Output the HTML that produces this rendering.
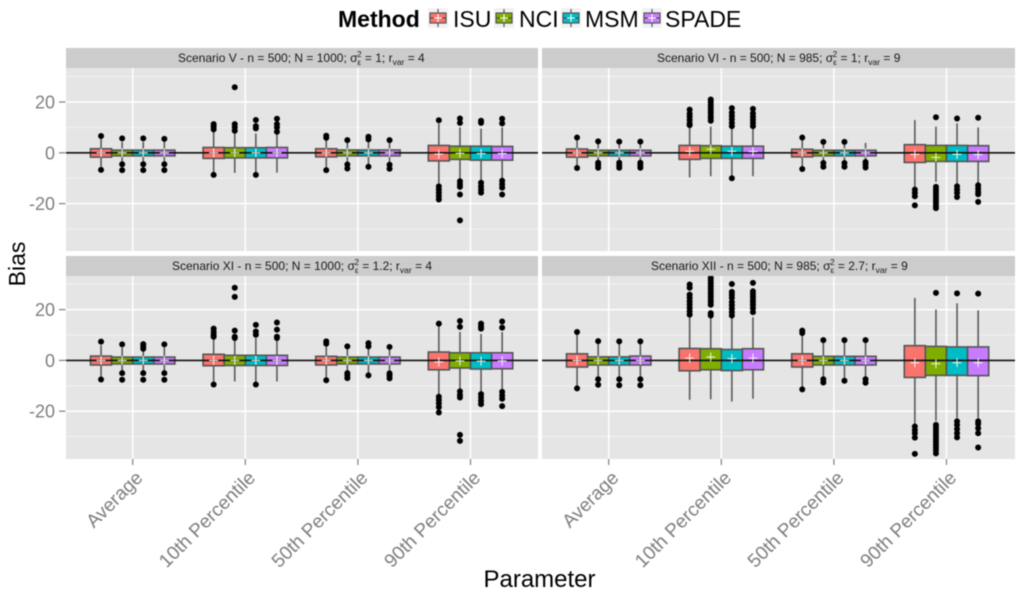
<!DOCTYPE html>
<html lang="en">
<head>
<meta charset="utf-8">
<title>Bias by parameter and method</title>
<style>
html,body{margin:0;padding:0;background:#fff;width:1024px;height:594px;overflow:hidden}
svg{display:block;filter:blur(0.6px)}
text{font-family:"Liberation Sans",sans-serif}
.strip{font-size:12px;fill:#1a1a1a}
.leg{font-size:23px;fill:#000}
</style>
</head>
<body>
<svg id="chart" xmlns="http://www.w3.org/2000/svg" width="1024" height="594" viewBox="0 0 1024 594">
  <g id="panels"></g>
  <g id="strips">
    <rect x="66" y="48" width="472" height="20" fill="#cccccc"/>
    <rect x="542" y="48" width="473" height="20" fill="#cccccc"/>
    <rect x="66" y="256" width="472" height="20" fill="#cccccc"/>
    <rect x="542" y="256" width="473" height="20" fill="#cccccc"/>
    <text class="strip" x="178" y="62">Scenario V - n = 500; N = 1000; σ<tspan dy="3" font-size="8">ε</tspan><tspan dx="-4" dy="-8" font-size="8">2</tspan><tspan dy="5"> = 1; r</tspan><tspan dy="3" font-size="8.5">var</tspan><tspan dy="-3"> = 4</tspan></text>
    <text class="strip" x="657" y="62">Scenario VI - n = 500; N = 985; σ<tspan dy="3" font-size="8">ε</tspan><tspan dx="-4" dy="-8" font-size="8">2</tspan><tspan dy="5"> = 1; r</tspan><tspan dy="3" font-size="8.5">var</tspan><tspan dy="-3"> = 9</tspan></text>
    <text class="strip" x="172" y="270">Scenario XI - n = 500; N = 1000; σ<tspan dy="3" font-size="8">ε</tspan><tspan dx="-4" dy="-8" font-size="8">2</tspan><tspan dy="5"> = 1.2; r</tspan><tspan dy="3" font-size="8.5">var</tspan><tspan dy="-3"> = 4</tspan></text>
    <text class="strip" x="651" y="270">Scenario XII - n = 500; N = 985; σ<tspan dy="3" font-size="8">ε</tspan><tspan dx="-4" dy="-8" font-size="8">2</tspan><tspan dy="5"> = 2.7; r</tspan><tspan dy="3" font-size="8.5">var</tspan><tspan dy="-3"> = 9</tspan></text>
  </g>
  <g id="axes"></g>
  <text transform="translate(25,264) rotate(-90)" text-anchor="middle" font-size="23" fill="#000">Bias</text>
  <text x="539.5" y="587" text-anchor="middle" font-size="24" fill="#000">Parameter</text>
  <g id="legend">
    <text x="338" y="27" font-size="23" font-weight="bold" fill="#000">Method</text>
    <text class="leg" x="453" y="27">ISU</text>
    <text class="leg" x="519" y="27">NCI</text>
    <text class="leg" x="585" y="27">MSM</text>
    <text class="leg" x="665" y="27">SPADE</text>
  </g>
</svg>
<script>
// Indexed [scenario][parameter][method]
const categories = ['Average', '10th Percentile', '50th Percentile', '90th Percentile'];
const methods = ['ISU', 'NCI', 'MSM', 'SPADE'];
const yTicks = [20, 0, -20];
const yMinorTicks = [30, 10, -10, -30];

const boxHigh = [
  [[1.6,1.05,1.05,1.05],[2.1,2,2,2.1],[1.6,1.1,1.1,1.1],[2.9,2.6,2.6,2.5]],
  [[1.5,1,1,1],[2.9,2.8,2.6,2.6],[1.4,1,1,1],[3.2,2.9,2.9,2.8]],
  [[1.7,1.3,1.3,1.3],[2.4,2,2,2],[1.6,1.3,1.3,1.3],[3.3,3,3,3]],
  [[2.6,1.4,1.4,1.7],[4.7,4.6,4.3,4.6],[2.6,1.6,1.6,1.6],[5.8,5.5,5.3,5.3]]
];
const boxLow = [
  [[-1.7,-1.2,-1.2,-1.2],[-2.2,-2,-2,-2],[-1.6,-1.2,-1.2,-1.2],[-3.2,-2.6,-2.9,-2.9]],
  [[-1.7,-1.2,-1.2,-1.2],[-2.6,-2.2,-2.2,-2.2],[-1.6,-1.2,-1.2,-1.2],[-3.8,-3.4,-3.4,-3.4]],
  [[-1.8,-1.4,-1.4,-1.4],[-2.1,-2,-2,-2],[-1.8,-1.4,-1.4,-1.4],[-3.7,-3,-3.4,-3.3]],
  [[-2.6,-1.8,-1.8,-1.8],[-4.1,-3.7,-4,-3.7],[-2.6,-1.8,-1.8,-1.8],[-6.7,-5.9,-5.9,-6]]
];
const whiskerHigh = [
  [[5.5,4.3,4.3,4.3],[8.3,7.6,7.6,7.8],[5.2,4.2,4.2,4.2],[11.5,10,9.5,10]],
  [[5,3.6,3.6,3.6],[10.2,10.3,10.2,9.8],[5,3.6,3.6,3.9],[12.9,10.3,11.6,10]],
  [[6,5,4,5],[8.6,8,8.8,8],[5.8,4.6,4.8,4.6],[13.6,11.2,10.4,11.2]],
  [[10,6.6,6.6,6.6],[17,16.5,17,17],[10,7,7,7],[24.6,20,22.5,19.7]]
];
const whiskerLow = [
  [[-5.5,-3.6,-3.6,-3.6],[-7.6,-7.9,-7.6,-7.8],[-5.6,-4,-4.6,-4],[-12,-10.3,-11,-10.5]],
  [[-5.2,-3.2,-3.2,-3.2],[-9.7,-9.2,-9,-9.2],[-5.4,-3.3,-3.3,-3],[-13.4,-11.4,-12.4,-12]],
  [[-6.5,-4.2,-4.2,-4.2],[-8.3,-8.3,-8.3,-8.3],[-6.8,-4.2,-5,-4.2],[-13.6,-11.5,-12.4,-11.5]],
  [[-10,-6.5,-6.5,-6.5],[-15.5,-15.3,-16.2,-15.1],[-10.5,-6.5,-7,-6.5],[-25,-23.8,-22.8,-22.8]]
];
const means = [
  [[0,0,0,0],[0,0,0,0],[0,0,0,0],[-0.5,-0.2,-0.3,-0.3]],
  [[0,0,0,0],[0.6,1.4,0.6,0.5],[0,0,0,0],[-0.6,-1.8,-0.6,-0.7]],
  [[0,0,0,0],[0,0,0,0],[0,0,0,0],[-0.6,-0.2,-0.3,-0.2]],
  [[0,0,0,0],[0.9,1.3,0.7,0.9],[0,0,0,0],[-0.9,-1.3,-0.9,-0.9]]
];
const outliers = [
  [
    [[6.6,-6.7],[5.7,-4.5,-6.8],[5.7,-4.5,-6.8],[5.5,-4.5,-6.8]],
    [[11.3,10.3,9.2,-8.7],[25.8,11.3,10,8.7],[12.9,10.5,9.6,-8.7],[13.4,11.3,10,8.3]],
    [[6.7,5.9,-6.8],[5,-4.6,-6.2],[6.3,5.3,-5.5],[5,-4.7,-6.3]],
    [[12.8,-13.2,-14.5,-15.8,-17.1,-18.4],[13.5,11.8,-11.2,-12.4,-13.4,-16.4,-26.6],[12.6,11.8,-11.8,-13.2,-14.5,-15.7],[13.4,11.6,-11,-12.4,-13.7,-16.4]]
  ],
  [
    [[6,-6],[4.5,-3.9,-4.9,-5.9],[4.4,-3.9,-4.9,-5.9],[4.4,-3.9,-4.9,-5.9]],
    [[17,15.4,14.2,12.9,11.6,10.9],[21,20,18.9,17.9,16.8,15.8,14.7,13.7,12.6],[17.6,15.8,14.5,13.2,11.8,10.5,-10],[17.3,15.5,14.2,13,11.8,10.5]],
    [[6,-6.4],[4.3,-4,-5.5],[4.3,-4,-5.5],[-3.6,-4.6,-5.8]],
    [[-14.5,-15.8,-17.1,-20.7],[14,-13.4,-14.5,-15.6,-16.6,-17.6,-18.7,-19.7,-20.8,-21.8],[13.5,-13.2,-14.5,-15.8,-17.4],[13.8,-12.8,-14.1,-15.4,-16.3,-19.3]]
  ],
  [
    [[7.4,-7.5],[6.3,-5,-7.6],[6.4,5.5,4.6,-5,-7.6],[6.3,-5,-7.6]],
    [[12.5,11.2,10.1,9.3,-9.5],[28.6,25,11.7,9.3,8.8],[14,11.4,10.1,-9.5],[14.9,12.1,9.3,8.8]],
    [[7.5,6.6,-7.8],[5.5,-5,-5.9,-7],[6.8,5.5,-5.9],[5.3,-5.1,-6,-7.1]],
    [[14.5,-14.3,-15.6,-16.9,-18.4,-20.5],[15.5,13.2,-12.2,-13.6,-14.6,-29.3,-31.7],[14.5,13.4,12.5,-13.3,-14.6,-15.9,-17.2],[15.3,12.9,-12.4,-13.8,-15.1,-18]]
  ],
  [
    [[11.2,-11],[7.6,-7.4,-9.6],[7.5,-7.4,-9.8],[7.5,-7.4,-9.8]],
    [[29.9,28.6,25.9,24.6,23.3,22,20.7,19.3,18],[32.5,31.5,30.4,29.4,28.3,27.2,26.2,25.1,24,23,21.9,18.6,17.7],[30.1,27,25.9,24.6,23,21.7,20.4,19,17.7],[30.5,27.2,26.2,25.1,24,23,21.9,20.6,19]],
    [[11.7,10.8,-11.4],[8,-7.4,-8.7],[8,-8],[8,-7.4,-8.8]],
    [[-26,-27.4,-28.7,-30.4,-36.8],[26.6,-25.4,-26.5,-27.6,-28.7,-29.8,-30.9,-32,-33.1,-34.2,-35.3,-36.6],[26.4,-24,-25.4,-27,-28.7,-30.3],[26.3,-24,-25,-26.7,-28.7,-34.3]]
  ]
];
const methodColors = ['#fa746e', '#7fae00', '#00bcc4', '#c77cff'];

const NS = 'http://www.w3.org/2000/svg';
const panelLeft = [66, 542, 66, 542];
const panelRight = [538, 1015, 538, 1015];
const panelTop = [68, 68, 276, 276];
const panelBottom = [251, 251, 459, 459];
const zeroY = [152.8, 152.8, 360.4, 360.4];

function yScale(p, v) { return zeroY[p] - v * 2.54; }
function xScale(p, c) { return panelLeft[p] + 66.7 + c * 112.6; }
function mk(parent, tag, attrs) {
  const el = document.createElementNS(NS, tag);
  for (const k in attrs) el.setAttribute(k, attrs[k]);
  parent.appendChild(el);
  return el;
}

const panelsG = document.getElementById('panels');
const axesG = document.getElementById('axes');
const BOX_W = 21.1;

for (let p = 0; p < 4; p++) {
  const g = mk(panelsG, 'g', {});
  
  
  const bg = mk(g, 'rect', {x: panelLeft[p], y: panelTop[p], width: panelRight[p] - panelLeft[p], height: panelBottom[p] - panelTop[p], fill: '#e5e5e5'});
  
  
  yMinorTicks.forEach(function (t) {
    const l = mk(g, 'line', {x1: panelLeft[p], x2: panelRight[p], y1: yScale(p, t), y2: yScale(p, t), stroke: '#f2f2f2', 'stroke-width': 1});
    
    
  });
  yTicks.forEach(function (t) {
    const l = mk(g, 'line', {x1: panelLeft[p], x2: panelRight[p], y1: yScale(p, t), y2: yScale(p, t), stroke: '#ffffff', 'stroke-width': 1.5});
    
    
  });
  categories.forEach(function (name, c) {
    const l = mk(g, 'line', {x1: xScale(p, c), x2: xScale(p, c), y1: panelTop[p], y2: panelBottom[p], stroke: '#ffffff', 'stroke-width': 1.5});
    
    
  });

  categories.forEach(function (name, c) {
    methods.forEach(function (method, m) {
      const cx = xScale(p, c) + (m - 1.5) * BOX_W;
      const box = mk(g, 'g', {});
      
      
      const wh = mk(box, 'line', {x1: cx, x2: cx, y1: yScale(p, whiskerHigh[p][c][m]), y2: yScale(p, boxHigh[p][c][m]), stroke: '#5a5a5a', 'stroke-width': 1.6});
      
      
      const wl = mk(box, 'line', {x1: cx, x2: cx, y1: yScale(p, boxLow[p][c][m]), y2: yScale(p, whiskerLow[p][c][m]), stroke: '#5a5a5a', 'stroke-width': 1.6});
      
      
      outliers[p][c][m].forEach(function (v) {
        const o = mk(box, 'circle', {cx: cx, cy: yScale(p, v), r: 3, fill: '#000'});
        
        
      });
      const yTop = yScale(p, boxHigh[p][c][m]);
      const yBot = yScale(p, boxLow[p][c][m]);
      const r = mk(box, 'rect', {x: cx - BOX_W / 2, y: yTop, width: BOX_W, height: yBot - yTop, fill: methodColors[m], stroke: '#555555', 'stroke-width': 1.6});
      
      
    });
  });

  const zero = mk(g, 'line', {x1: panelLeft[p], x2: panelRight[p], y1: yScale(p, 0), y2: yScale(p, 0), stroke: '#111', 'stroke-width': 1.6});
  
  

  categories.forEach(function (name, c) {
    methods.forEach(function (method, m) {
      const cx = xScale(p, c) + (m - 1.5) * BOX_W;
      const my = yScale(p, means[p][c][m]);
      const cross = mk(g, 'path', {d: 'M' + (cx - 4.5) + ' ' + my + 'H' + (cx + 4.5) + 'M' + cx + ' ' + (my - 4.5) + 'V' + (my + 4.5), stroke: '#fff', 'stroke-width': 1.1, 'stroke-opacity': 0.85, fill: 'none'});
      
      
    });
  });
}

// y axes (left column)
[0, 2].forEach(function (p) {
  yTicks.forEach(function (t) {
    const y = yScale(p, t);
    const tick = mk(axesG, 'line', {x1: 59, x2: 65.5, y1: y, y2: y, stroke: '#7f7f7f', 'stroke-width': 1.2});
    
    
    const lab = mk(axesG, 'text', {x: 55, y: y + 6.5, 'text-anchor': 'end', 'font-size': 18, fill: '#7f7f7f'});
    lab.textContent = String(t);
    
    
  });
});

// x axes (bottom row)
[2, 3].forEach(function (p) {
  categories.forEach(function (name, c) {
    const x = xScale(p, c);
    const tick = mk(axesG, 'line', {x1: x, x2: x, y1: 459, y2: 465, stroke: '#7f7f7f', 'stroke-width': 1.2});
    
    
    const lab = mk(axesG, 'text', {transform: 'translate(' + (x + 11) + ',479) rotate(-45)', 'text-anchor': 'end', 'font-size': 19, fill: '#7f7f7f'});
    lab.textContent = name;
    
    
  });
});

// legend keys
const keyLeft = [428, 494, 561, 642];
const legendG = document.getElementById('legend');
methods.forEach(function (method, m) {
  const x = keyLeft[m];
  const key = mk(legendG, 'g', {});
  
  
  mk(key, 'rect', {x: x, y: 8, width: 20, height: 20, fill: '#f2f2f2'});
  mk(key, 'line', {x1: x + 10, x2: x + 10, y1: 9, y2: 27, stroke: '#555', 'stroke-width': 1.2});
  mk(key, 'rect', {x: x + 2, y: 13, width: 16, height: 10, fill: methodColors[m], stroke: '#555', 'stroke-width': 1.2});
  mk(key, 'line', {x1: x + 2, x2: x + 18, y1: 18, y2: 18, stroke: '#444', 'stroke-width': 1});
  mk(key, 'path', {d: 'M' + (x + 6) + ' 18H' + (x + 14) + 'M' + (x + 10) + ' 14V22', stroke: '#fff', 'stroke-width': 1.1, fill: 'none'});
});
</script>
</body>
</html>
